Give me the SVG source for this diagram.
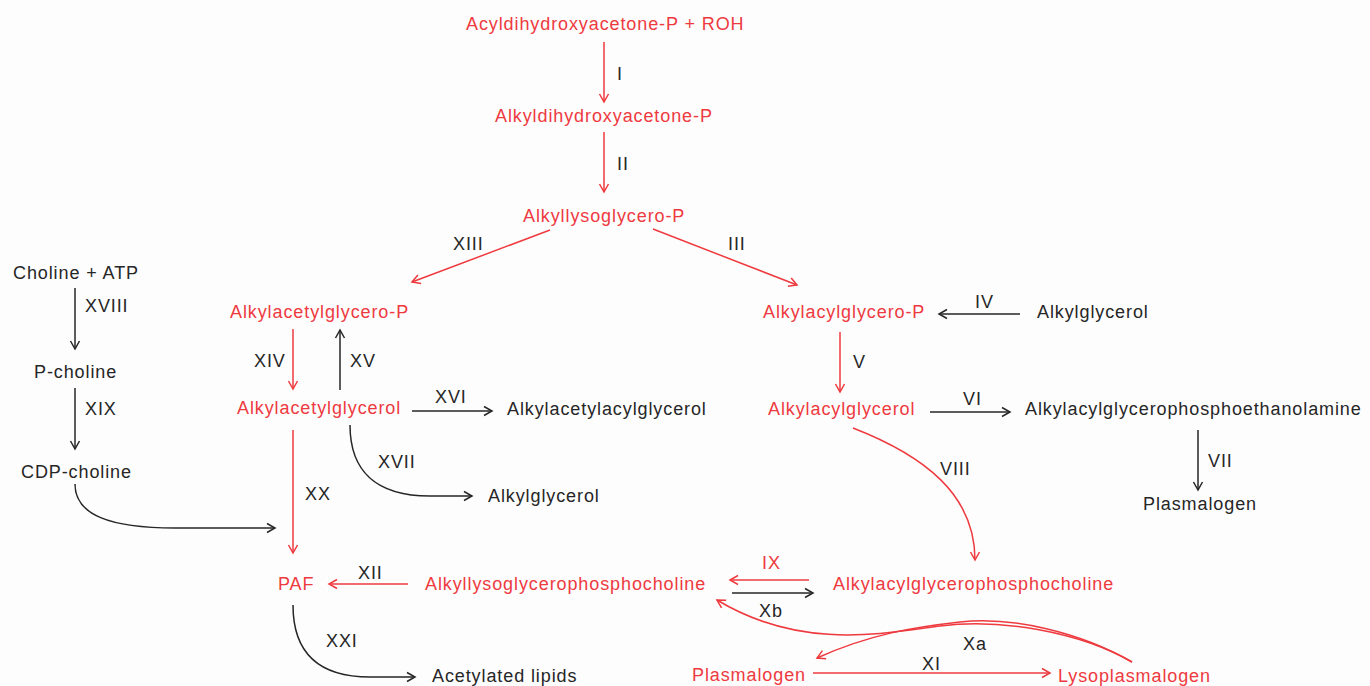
<svg xmlns="http://www.w3.org/2000/svg" width="1370" height="686" viewBox="0 0 1370 686">
<style>
text{font-family:"Liberation Sans",Arial,Helvetica,sans-serif;font-size:18px;letter-spacing:0.9px}
.r{fill:#EE3A3F}
.k{fill:#262626}
.lr{stroke:#EE3A3F;stroke-width:1.5;fill:none;marker-end:url(#ar)}
.lk{stroke:#262626;stroke-width:1.5;fill:none;marker-end:url(#ak)}
</style>
<defs>
<marker id="ar" markerUnits="userSpaceOnUse" markerWidth="14" markerHeight="14" viewBox="-11 -7 14 14" refX="0" refY="0" orient="auto"><path d="M-8,-4.5 L0,0 L-8,4.5" fill="none" stroke="#EE3A3F" stroke-width="1.5"/></marker>
<marker id="ak" markerUnits="userSpaceOnUse" markerWidth="14" markerHeight="14" viewBox="-11 -7 14 14" refX="0" refY="0" orient="auto"><path d="M-8,-4.5 L0,0 L-8,4.5" fill="none" stroke="#262626" stroke-width="1.5"/></marker>
</defs>
<rect width="1370" height="686" fill="#FDFDFD"/>

<g id="connectors">
<line class="lr" x1="604" y1="42" x2="604" y2="102"/>
<line class="lr" x1="604" y1="132" x2="604" y2="192"/>
<line class="lr" x1="550" y1="230" x2="412" y2="282"/>
<line class="lr" x1="653" y1="229" x2="797" y2="285"/>
<line class="lr" x1="293" y1="329" x2="293" y2="389"/>
<line class="lk" x1="340" y1="390" x2="340" y2="330"/>
<line class="lk" x1="412" y1="411" x2="492" y2="411"/>
<path class="lk" d="M350,425 C350,470 375,496 430,496 L472,496"/>
<line class="lr" x1="293" y1="430" x2="293" y2="553"/>
<line class="lk" x1="75" y1="288" x2="75" y2="349"/>
<line class="lk" x1="75" y1="388" x2="75" y2="449"/>
<path class="lk" d="M75,484 C75,515 110,528 175,528 L275,528"/>
<line class="lr" x1="408" y1="584" x2="329" y2="584"/>
<path class="lk" d="M293,605 C293,650 315,677 370,677 L415,677"/>
<line class="lk" x1="1020" y1="314" x2="939" y2="314"/>
<line class="lr" x1="840" y1="332" x2="840" y2="392"/>
<line class="lk" x1="930" y1="412" x2="1010" y2="412"/>
<line class="lk" x1="1198" y1="430" x2="1198" y2="490"/>
<path class="lr" d="M853,428 C925,456 975,495 975,560"/>
<line class="lr" x1="809" y1="580" x2="730" y2="580"/>
<line class="lk" x1="732" y1="593" x2="813" y2="593"/>
<path class="lr" d="M1132,662 C1080,632 1000,618 940,626 C880,634 800,650 717,600"/>
<path class="lr" d="M1132,662 C1080,632 1010,616 960,622 C915,627 870,634 817,658"/>
<line class="lr" x1="813" y1="673" x2="1050" y2="673"/>
</g>

<g id="labels">
<text class="k" x="617" y="80">I</text>
<text class="k" x="617" y="170">II</text>
<text class="k" x="453" y="250">XIII</text>
<text class="k" x="728" y="250">III</text>
<text class="k" x="254" y="367">XIV</text>
<text class="k" x="350" y="367">XV</text>
<text class="k" x="435" y="403">XVI</text>
<text class="k" x="378" y="468">XVII</text>
<text class="k" x="305" y="500">XX</text>
<text class="k" x="85" y="312">XVIII</text>
<text class="k" x="85" y="415">XIX</text>
<text class="k" x="358" y="579">XII</text>
<text class="k" x="326" y="647">XXI</text>
<text class="k" x="975" y="308">IV</text>
<text class="k" x="853" y="368">V</text>
<text class="k" x="963" y="405">VI</text>
<text class="k" x="1208" y="467">VII</text>
<text class="k" x="940" y="475">VIII</text>
<text class="r" x="762" y="569">IX</text>
<text class="k" x="759" y="617">Xb</text>
<text class="k" x="963" y="650">Xa</text>
<text class="k" x="922" y="670">XI</text>
</g>

<g id="n-acyldhap"><text class="r" x="466" y="30">Acyldihydroxyacetone-P + ROH</text></g>
<g id="n-alkyldhap"><text class="r" x="495" y="122">Alkyldihydroxyacetone-P</text></g>
<g id="n-alkyllysogp"><text class="r" x="523" y="222">Alkyllysoglycero-P</text></g>
<g id="n-alkylacetylgp"><text class="r" x="230" y="318">Alkylacetylglycero-P</text></g>
<g id="n-alkylacylgp"><text class="r" x="763" y="318">Alkylacylglycero-P</text></g>
<g id="n-alkylglycerol1"><text class="k" x="1037" y="318">Alkylglycerol</text></g>
<g id="n-alkylacetylglycerol"><text class="r" x="237" y="414">Alkylacetylglycerol</text></g>
<g id="n-alkylacetylacylglycerol"><text class="k" x="507" y="415">Alkylacetylacylglycerol</text></g>
<g id="n-alkylacylglycerol"><text class="r" x="768" y="415">Alkylacylglycerol</text></g>
<g id="n-alkylacylgpe"><text class="k" x="1025" y="415">Alkylacylglycerophosphoethanolamine</text></g>
<g id="n-alkylglycerol2"><text class="k" x="488" y="502">Alkylglycerol</text></g>
<g id="n-plasmalogen1"><text class="k" x="1143" y="510">Plasmalogen</text></g>
<g id="n-choline"><text class="k" x="13" y="279">Choline + ATP</text></g>
<g id="n-pcholine"><text class="k" x="34" y="378">P-choline</text></g>
<g id="n-cdpcholine"><text class="k" x="21" y="478">CDP-choline</text></g>
<g id="n-paf"><text class="r" x="278" y="590">PAF</text></g>
<g id="n-lysopaf"><text class="r" x="425" y="590">Alkyllysoglycerophosphocholine</text></g>
<g id="n-alkylacylgpc"><text class="r" x="833" y="590">Alkylacylglycerophosphocholine</text></g>
<g id="n-acetylated"><text class="k" x="432" y="682">Acetylated lipids</text></g>
<g id="n-plasmalogen2"><text class="r" x="692" y="681">Plasmalogen</text></g>
<g id="n-lysoplasmalogen"><text class="r" x="1058" y="682">Lysoplasmalogen</text></g>
</svg>
